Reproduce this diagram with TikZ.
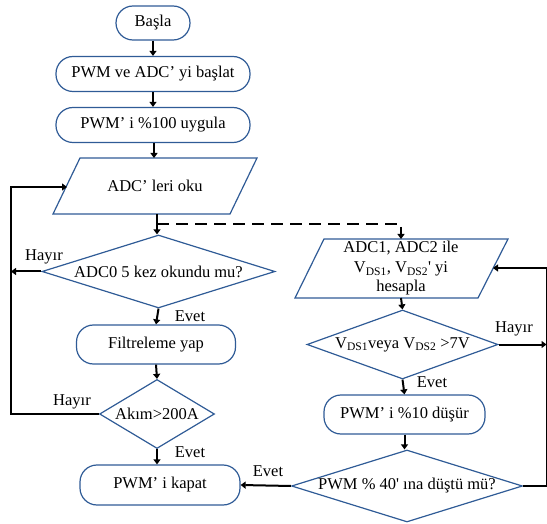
\documentclass[tikz,border=0pt]{standalone}
\usepackage{fontspec}
\setmainfont{Liberation Serif}[Ligatures=TeXOff]
\usetikzlibrary{shapes.geometric,arrows.meta}
\definecolor{shapeblue}{HTML}{2F5B96}
\begin{document}
\begin{tikzpicture}[x=1pt,y=-1pt,
  every node/.style={font=\fontsize{16.5}{19.5}\selectfont},
  term/.style={draw=shapeblue, line width=1.2pt, rounded corners=17pt, minimum width=#1, minimum height=35pt, inner sep=0pt},
  dec/.style={diamond, draw=shapeblue, line width=1.2pt, inner sep=0pt},
  io/.style={draw=shapeblue, line width=1.2pt, line join=miter},
  flow/.style={line width=2pt, -{Triangle[length=5pt,width=7pt]}},
  lbl/.style={inner sep=0pt}]
\useasboundingbox (0,0) rectangle (547,524);
% left column
\node[term=74, minimum height=34pt] (start) at (153,23) {Başla};
\node[term=194] (init) at (153,74) {PWM ve ADC’ yi başlat};
\node[term=194] (pwm100) at (153,125) {PWM’ i \%100 uygula};
\draw[io] (80,158) -- (257,158) -- (230,214) -- (53,214) -- cycle;
\node (read) at (155,186) {ADC’ leri oku};
\coordinate (readtop) at (154,158);
\coordinate (readbot) at (157,214);
\coordinate (readleft) at (67,187);
\node[dec, aspect=3.19, minimum width=233pt, minimum height=73pt] (adc0) at (158.5,271.5) {ADC0 5 kez okundu mu?};
\node[term=159, minimum height=39pt] (filt) at (156,344.5) {Filtreleme yap};
\node[dec, aspect=1.67, minimum width=115pt, minimum height=69pt] (akim) at (157,414) {Akım>200A};
\node[term=160, minimum height=40pt] (kapat) at (160,485) {PWM’ i kapat};
% right column
\draw[io] (324,239) -- (508,239) -- (478,298) -- (295,298) -- cycle;
\node[align=center, inner sep=0pt] (adc12) at (401,268.5) {ADC1, ADC2 ile\\V\textsubscript{DS1}, V\textsubscript{DS2}' yi\\hesapla};
\coordinate (adc12top) at (401,239);
\coordinate (adc12bot) at (401,298);
\coordinate (adc12right) at (493,268);
\node[dec, aspect=2.77, minimum width=191pt, minimum height=69pt] (vds) at (402.5,344.5) {V\textsubscript{DS1}veya V\textsubscript{DS2} >7V};
\node[term=161, minimum height=39pt] (pwm10) at (404.5,414.5) {PWM’ i \%10 düşür};
\node[dec, aspect=3.2, minimum width=231pt, minimum height=72pt] (pwm40) at (407,486) {PWM \% 40' ına düştü mü?};
\coordinate (lx) at (11,0);
\coordinate (rx) at (547.3,0);
\coordinate (hx) at (546.5,0);
\coordinate (dj) at (157,224);
% connectors
\draw[flow] (start) -- (init);
\draw[flow] (init) -- (pwm100);
\draw[flow] (pwm100.south -| readtop) -- (readtop);
\draw[flow] (readbot) -- (readbot |- adc0.north);
\draw[flow] (adc0.west) -- (adc0.west -| lx);
\draw[flow] (adc0.south) -- (filt.north);
\draw[flow] (filt.south) -- (akim.north);
\draw[flow] (akim.south) -- (akim.south |- kapat.north);
\draw[flow] (akim.west) -- (akim.west -| lx) -- (readleft -| lx) -- (readleft);
\draw[flow, dash pattern=on 12pt off 7pt] (dj) -- (dj -| adc12top) -- (adc12top);
\draw[flow] (adc12bot) -- (vds.north);
\draw[flow] (vds.south) -- (pwm10.north);
\draw[flow] (pwm10.south) -- (pwm10.south |- pwm40.north);
\draw[flow] (vds.east) -- (vds.east -| hx);
\draw[flow] (pwm40.east) -- (pwm40.east -| rx) -- (adc12right -| rx) -- (adc12right);
\draw[flow] (pwm40.west) -- (kapat.east);
% labels
\node[lbl] at (44,257) {Hayır};
\node[lbl] at (72,402) {Hayır};
\node[lbl] at (514,329) {Hayır};
\node[lbl] at (190,316) {Evet};
\node[lbl] at (190,452) {Evet};
\node[lbl] at (432,382) {Evet};
\node[lbl] at (268,471) {Evet};
\end{tikzpicture}
\end{document}
